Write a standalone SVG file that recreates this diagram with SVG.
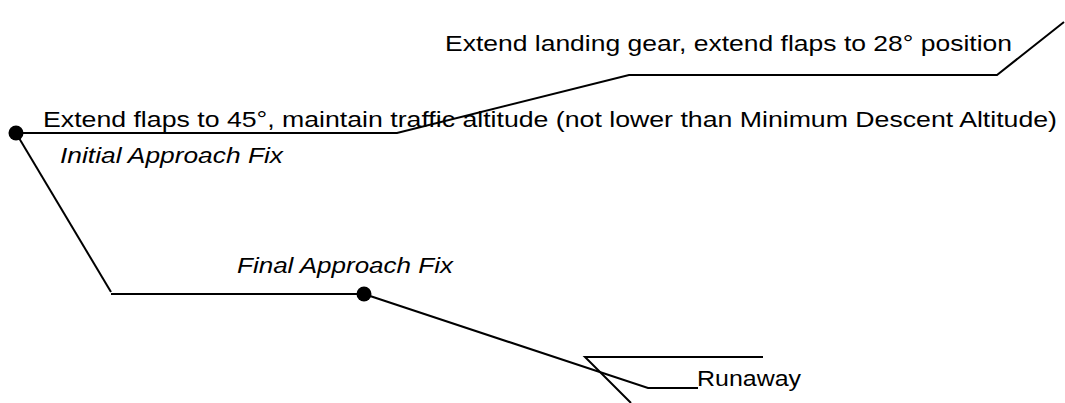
<svg xmlns="http://www.w3.org/2000/svg" width="1065" height="403" viewBox="0 0 1065 403">
<style>
  .ln { fill: none; stroke: #000; stroke-width: 2; }
  .dot { fill: #000; }
  .t { font-family: "Liberation Sans", Arial, sans-serif; font-size: 22px; fill: #000; }
  .it { font-style: italic; }
</style>
<rect width="1065" height="403" fill="#fff"/>
<g id="connectors">
  <path class="ln" d="M16,133 L397,133 L629,75 L997,75 L1064,22"/>
  <path class="ln" d="M16,133 L111,292"/>
  <path class="ln" d="M111,294 L364,294"/>
  <path class="ln" d="M364,294 L648,388 L698,388"/>
</g>
<g id="iaf">
  <circle class="dot" cx="16" cy="133" r="7.5"/>
  <text class="t it" x="60" y="163" textLength="223" lengthAdjust="spacingAndGlyphs">Initial Approach Fix</text>
</g>
<g id="faf">
  <circle class="dot" cx="364" cy="294" r="7.5"/>
  <text class="t it" x="237" y="273" textLength="216" lengthAdjust="spacingAndGlyphs">Final Approach Fix</text>
</g>
<g id="step-flaps45">
  <text class="t" x="43" y="127" textLength="1014" lengthAdjust="spacingAndGlyphs">Extend flaps to 45°, maintain traffic altitude (not lower than Minimum Descent Altitude)</text>
</g>
<g id="step-gear">
  <text class="t" x="445" y="51" textLength="567" lengthAdjust="spacingAndGlyphs">Extend landing gear, extend flaps to 28° position</text>
</g>
<g id="runway">
  <path class="ln" d="M763,357 L585,357 L631,403"/>
  <text class="t" x="697" y="386" textLength="104" lengthAdjust="spacingAndGlyphs">Runaway</text>
</g>
</svg>
